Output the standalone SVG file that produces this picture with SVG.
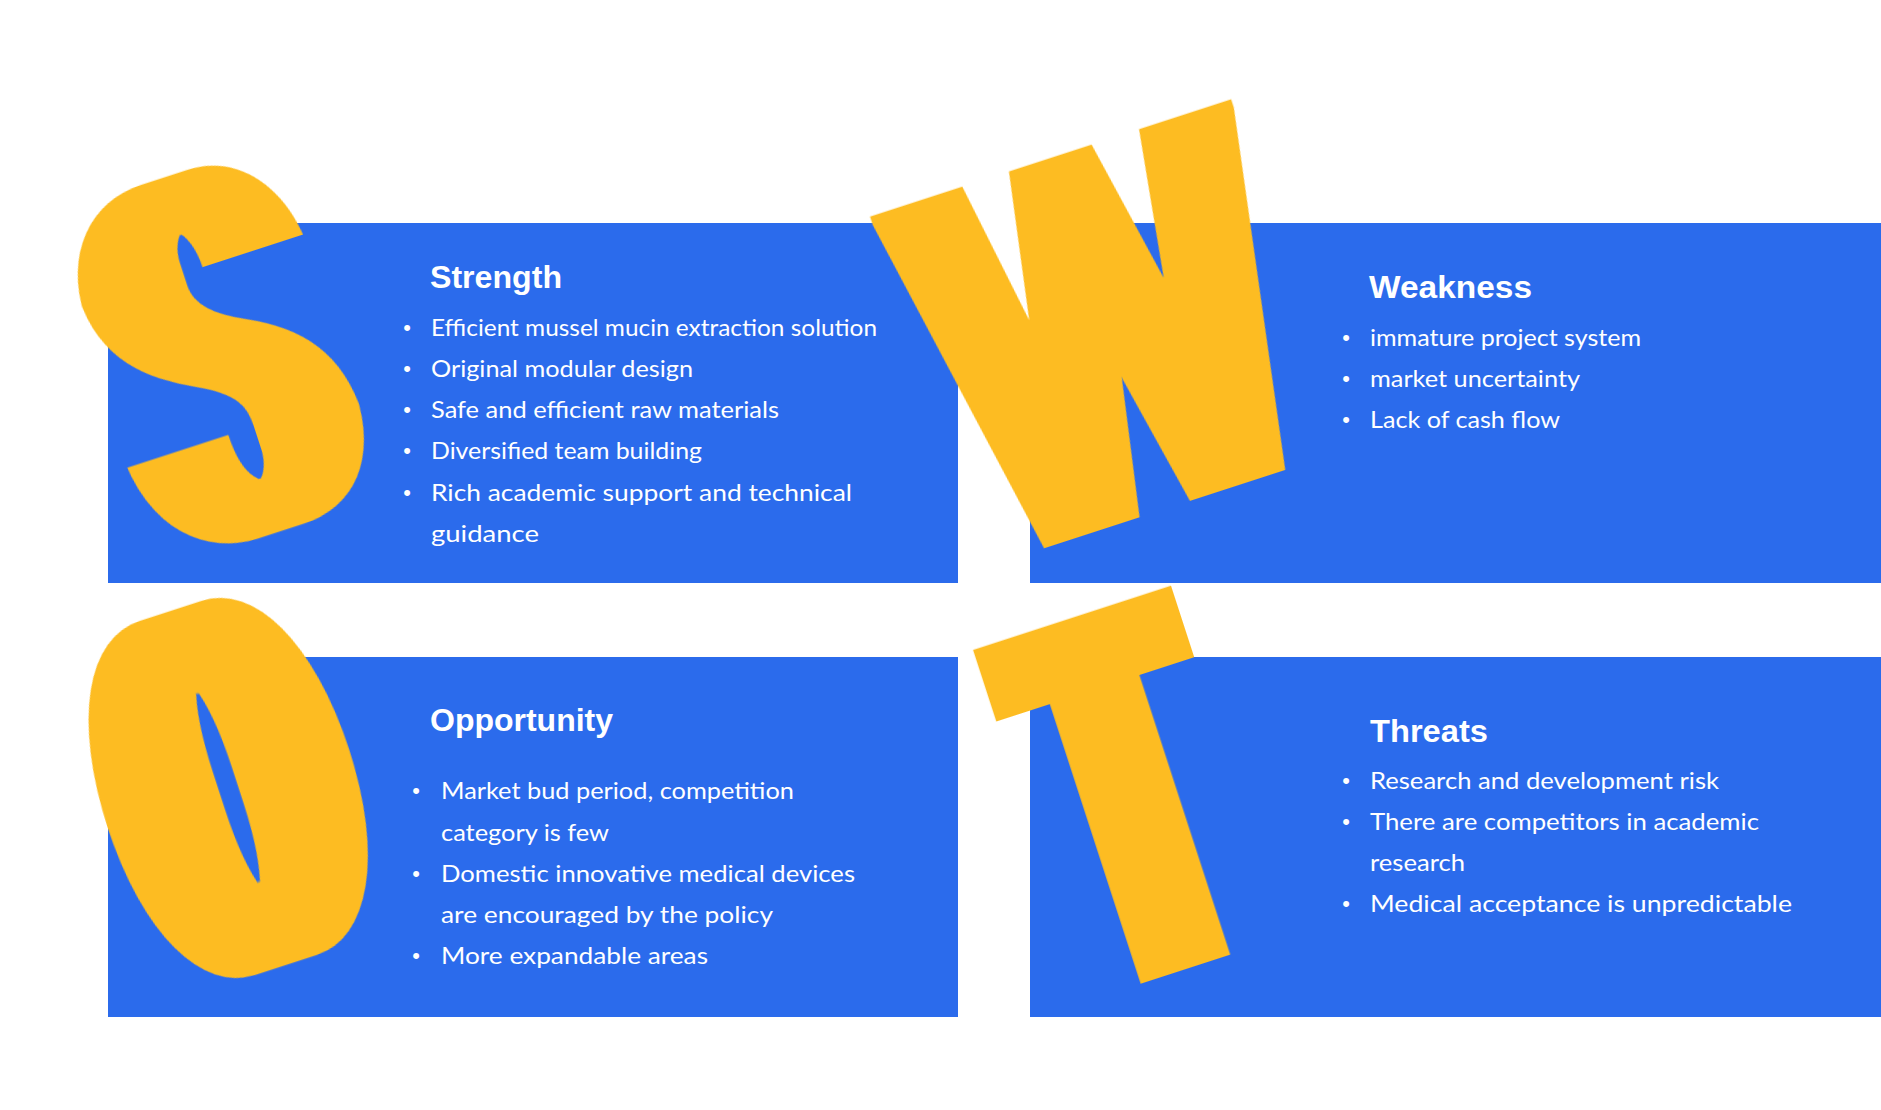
<svg xmlns="http://www.w3.org/2000/svg" width="1881" height="1110" viewBox="0 0 1881 1110">
<style>
.panel{fill:#2B6BEC}
.title{font-family:"Liberation Sans",Arial,sans-serif;font-weight:bold;font-size:32px;fill:#FFFFFF}
.body{font-family:Lato,"Open Sans",sans-serif;font-size:24px;fill:#FFFFFF}
.dot{font-family:"Liberation Sans",Arial,sans-serif;font-size:22px;fill:#FFFFFF;text-anchor:middle}
.big{font-family:Roboto,"Liberation Sans",sans-serif;font-weight:900;font-size:508px;fill:#FDBC22;text-anchor:middle}
.round{font-size:540px}
</style>
<defs>
<filter id="heavyT" x="-40%" y="-25%" width="180%" height="150%" primitiveUnits="userSpaceOnUse">
<feMorphology operator="dilate" radius="24 4"/>
</filter>
<filter id="heavyW" x="-20%" y="-25%" width="140%" height="150%" primitiveUnits="userSpaceOnUse">
<feMorphology operator="dilate" radius="13 4"/>
</filter>
<filter id="heavyS" x="-40%" y="-25%" width="180%" height="150%" primitiveUnits="userSpaceOnUse">
<feMorphology operator="dilate" radius="25 1"/>
<feMorphology operator="erode" radius="1 12"/>
</filter>
<filter id="heavyO" x="-40%" y="-25%" width="180%" height="150%" primitiveUnits="userSpaceOnUse">
<feMorphology operator="dilate" radius="33 1"/>
<feMorphology operator="erode" radius="1 12"/>
</filter>
</defs>
<rect width="1881" height="1110" fill="#FFFFFF"/>
<g id="connectors"/>
<g id="strength">
<rect class="panel" x="108" y="223" width="850" height="360"/>
<text class="title" x="430" y="288" textLength="132" lengthAdjust="spacingAndGlyphs">Strength</text>
<text class="dot" x="407" y="335">•</text>
<text class="dot" x="407" y="376">•</text>
<text class="dot" x="407" y="417">•</text>
<text class="dot" x="407" y="458">•</text>
<text class="dot" x="407" y="500">•</text>
<text class="body" x="431" y="336" textLength="446" lengthAdjust="spacingAndGlyphs">Efficient mussel mucin extraction solution</text>
<text class="body" x="431" y="377" textLength="262" lengthAdjust="spacingAndGlyphs">Original modular design</text>
<text class="body" x="431" y="418" textLength="348" lengthAdjust="spacingAndGlyphs">Safe and efficient raw materials</text>
<text class="body" x="431" y="459" textLength="271" lengthAdjust="spacingAndGlyphs">Diversified team building</text>
<text class="body" x="431" y="501" textLength="421" lengthAdjust="spacingAndGlyphs">Rich academic support and technical</text>
<text class="body" x="431" y="542" textLength="108" lengthAdjust="spacingAndGlyphs">guidance</text>
</g>
<g id="weakness">
<rect class="panel" x="1030" y="223" width="851" height="360"/>
<text class="title" x="1369" y="298" textLength="163" lengthAdjust="spacingAndGlyphs">Weakness</text>
<text class="dot" x="1346" y="345">•</text>
<text class="dot" x="1346" y="386">•</text>
<text class="dot" x="1346" y="427">•</text>
<text class="body" x="1370" y="346" textLength="271" lengthAdjust="spacingAndGlyphs">immature project system</text>
<text class="body" x="1370" y="387" textLength="210" lengthAdjust="spacingAndGlyphs">market uncertainty</text>
<text class="body" x="1370" y="428" textLength="190" lengthAdjust="spacingAndGlyphs">Lack of cash flow</text>
</g>
<g id="opportunity">
<rect class="panel" x="108" y="657" width="850" height="360"/>
<text class="title" x="430" y="731" textLength="183" lengthAdjust="spacingAndGlyphs">Opportunity</text>
<text class="dot" x="416" y="798">•</text>
<text class="dot" x="416" y="881">•</text>
<text class="dot" x="416" y="963">•</text>
<text class="body" x="441" y="799" textLength="353" lengthAdjust="spacingAndGlyphs">Market bud period, competition</text>
<text class="body" x="441" y="841" textLength="168" lengthAdjust="spacingAndGlyphs">category is few</text>
<text class="body" x="441" y="882" textLength="414" lengthAdjust="spacingAndGlyphs">Domestic innovative medical devices</text>
<text class="body" x="441" y="923" textLength="332" lengthAdjust="spacingAndGlyphs">are encouraged by the policy</text>
<text class="body" x="441" y="964" textLength="267" lengthAdjust="spacingAndGlyphs">More expandable areas</text>
</g>
<g id="threats">
<rect class="panel" x="1030" y="657" width="851" height="360"/>
<text class="title" x="1370" y="742" textLength="118" lengthAdjust="spacingAndGlyphs">Threats</text>
<text class="dot" x="1346" y="788">•</text>
<text class="dot" x="1346" y="829">•</text>
<text class="dot" x="1346" y="911">•</text>
<text class="body" x="1370" y="789" textLength="349" lengthAdjust="spacingAndGlyphs">Research and development risk</text>
<text class="body" x="1370" y="830" textLength="389" lengthAdjust="spacingAndGlyphs">There are competitors in academic</text>
<text class="body" x="1370" y="871" textLength="95" lengthAdjust="spacingAndGlyphs">research</text>
<text class="body" x="1370" y="912" textLength="422" lengthAdjust="spacingAndGlyphs">Medical acceptance is unpredictable</text>
</g>
<g id="letter-S"><text class="big round" x="0" y="193" filter="url(#heavyS)" transform="translate(217,355) rotate(-18)" textLength="216" lengthAdjust="spacingAndGlyphs">S</text></g>
<g id="letter-W"><text class="big" x="0" y="181" filter="url(#heavyW)" transform="translate(1108,333) rotate(-18)" textLength="364" lengthAdjust="spacingAndGlyphs">W</text></g>
<g id="letter-O"><text class="big round" x="0" y="193" filter="url(#heavyO)" transform="translate(228,787) rotate(-18)" textLength="211" lengthAdjust="spacingAndGlyphs">O</text></g>
<g id="letter-T"><text class="big" x="0" y="181" filter="url(#heavyT)" transform="translate(1129,793) rotate(-18)" textLength="170" lengthAdjust="spacingAndGlyphs">T</text></g>
</svg>
